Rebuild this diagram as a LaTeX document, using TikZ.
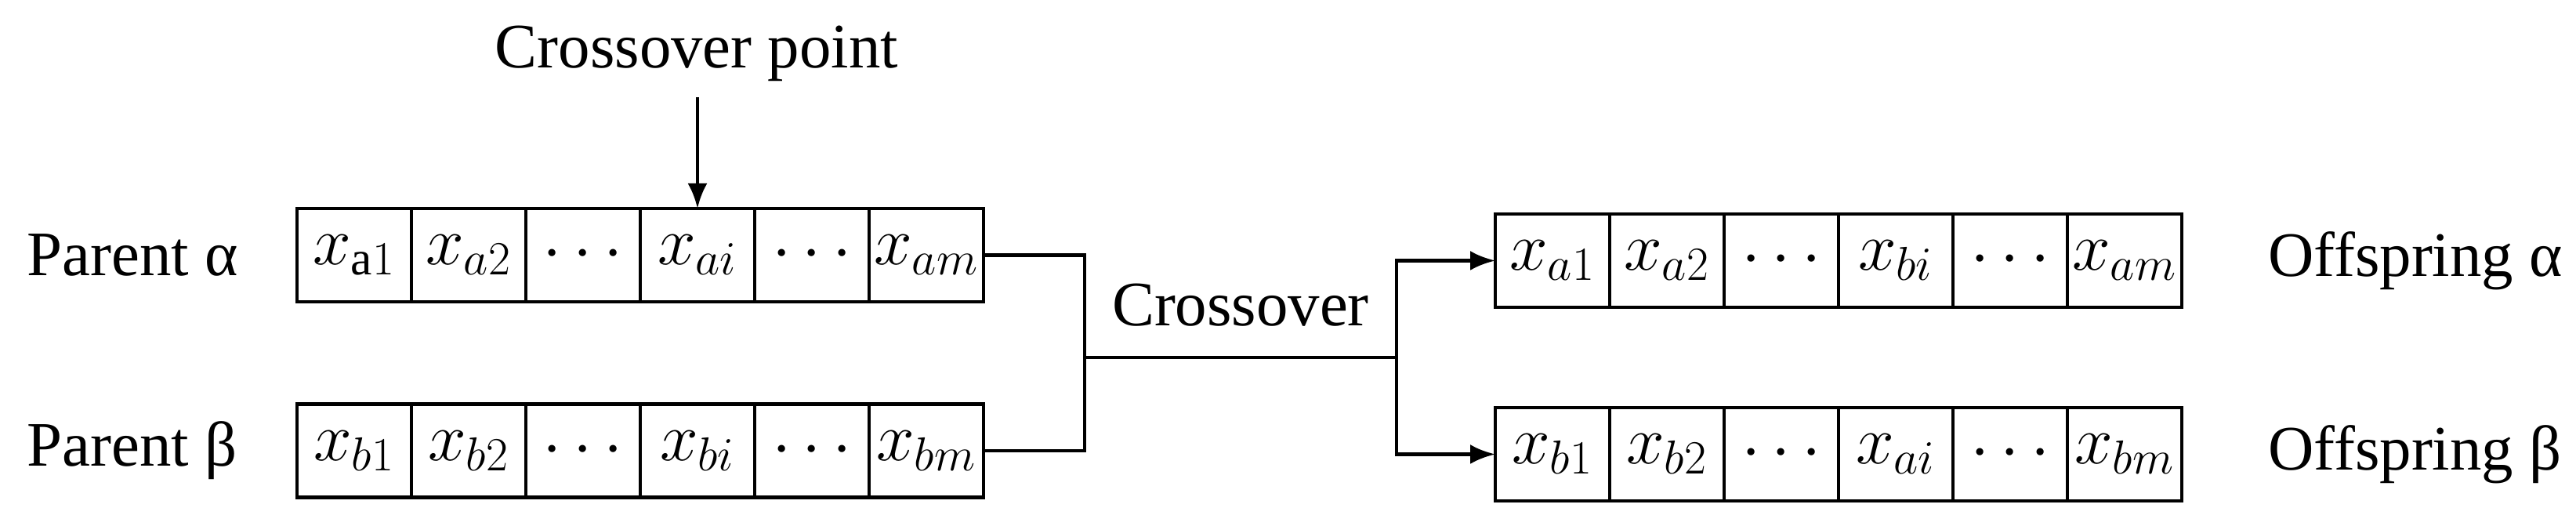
\documentclass[tikz,border=0pt]{standalone}
\usepackage{fontspec}
\setmainfont{Liberation Serif}
\usetikzlibrary{positioning,arrows.meta}
\begin{document}
\begin{tikzpicture}[
    cell/.style={draw,line width=1.3pt,outer sep=0pt,minimum width=1.46cm,minimum height=1.19cm,inner sep=0pt,font=\fontsize{25}{29}\selectfont},
    lbl/.style={font=\fontsize{23}{27}\selectfont},
    link/.style={line width=1.3pt},
    >={Latex[length=0.32cm,width=0.25cm]}
  ]
  \useasboundingbox (0,0) rectangle (32.87,6.71);

  %PARENTS
  \node[cell] (pa1) at (4.52,3.455) {$x_{\mathrm{a}1}$};
  \node[cell] (pb1) at (4.52,0.96) {$x_{b1}$};
  %OFFSPRING
  \node[cell] (oa1) at (19.81,3.385) {$x_{a1}$};
  \node[cell] (ob1) at (19.81,0.915) {$x_{b1}$};

  %remaining cells of each row
  \foreach \row/\a/\b/\c/\d/\e in {pa/a2/\cdots/ai/\cdots/am,pb/b2/\cdots/bi/\cdots/bm,
                                   oa/a2/\cdots/bi/\cdots/am,ob/b2/\cdots/ai/\cdots/bm}{
    \node[cell,right=0pt of \row1] (\row2) {$x_{\a}$};
    \node[cell,right=0pt of \row2] (\row3) {$\b$};
    \node[cell,right=0pt of \row3] (\row4) {$x_{\c}$};
    \node[cell,right=0pt of \row4] (\row5) {$\d$};
    \node[cell,right=0pt of \row5] (\row6) {$x_{\e}$};
  }

  %LABELS
  \node[lbl,anchor=west] (lpa) at (0.22,3.455) {Parent α};
  \node[lbl,anchor=west] (lpb) at (0.22,0.96) {Parent β};
  \node[lbl,anchor=west] (loa) at (28.82,3.385) {Offspring α};
  \node[lbl,anchor=west] (lob) at (28.82,0.915) {Offspring β};
  \node[lbl] (cp) at (8.89,6.03) {Crossover point};
  \node[lbl] (co) at (15.83,2.82) {Crossover};

  %CONNECTORS
  \coordinate (top) at (8.91,5.47);
  \coordinate (jl) at (13.84,2.15);
  \coordinate (jr) at (17.82,2.15);
  \draw[link,->] (pa4.north |- top) -- (pa4.north);
  \draw[link] (pa6.east) -| (jl);
  \draw[link] (pb6.east) -| (jl);
  \draw[link] (jl) -- (jr);
  \draw[link,->] (jr) |- (oa1.west);
  \draw[link,->] (jr) |- (ob1.west);
\end{tikzpicture}
\end{document}
